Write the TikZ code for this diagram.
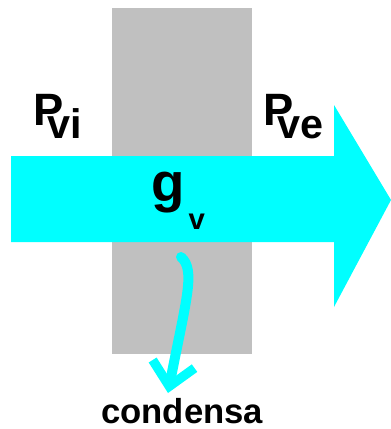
\documentclass[tikz,border=0pt]{standalone}
\usepackage{fontspec}
\setmainfont{Liberation Sans}
\usetikzlibrary{arrows.meta}
\definecolor{wallgray}{RGB}{192,192,192}
\definecolor{vapour}{RGB}{0,255,255}
\newcommand{\sz}[1]{\bfseries\fontsize{#1}{#1}\selectfont}
% P with a subscript tucked under its bowl
\newcommand{\psub}[1]{P\kern-12pt\raisebox{-9.75pt}{\sz{31}#1}}
\begin{document}
\begin{tikzpicture}[x=0.75pt,y=-0.75pt,
  lab/.style={inner sep=0pt,anchor=base west,font=\sz{34}},
  drip/.style={draw=vapour,line width=7.5pt,line cap=round,
    -{Straight Barb[length=17pt,width=32pt,line width=7pt]}}
]
\useasboundingbox (0,0) rectangle (391,429);
% wall
\fill[wallgray] (112,8) rectangle (252,354);
% vapour flow
\fill[vapour] (11,156) -- (334,156) -- (334,105) -- (391,200)
  -- (334,307) -- (334,242) -- (11,242) -- cycle;
\node[lab] (pi) at (33,125) {\psub{vi}};
\node[lab] (pe) at (263,125) {\psub{ve}};
\node[lab,font=\sz{41}] (g) at (151,201) {g\kern3pt\raisebox{-21pt}{\sz{22}v}};
% condensation
\node[lab,font=\sz{26}] (cond) at (101,423) {condensa};
\coordinate (drop) at (181,257);
\coordinate (tip) at (168,393);
\draw[drip] (drop) .. controls (196,270) and (186,300) .. (tip);
\end{tikzpicture}
\end{document}
